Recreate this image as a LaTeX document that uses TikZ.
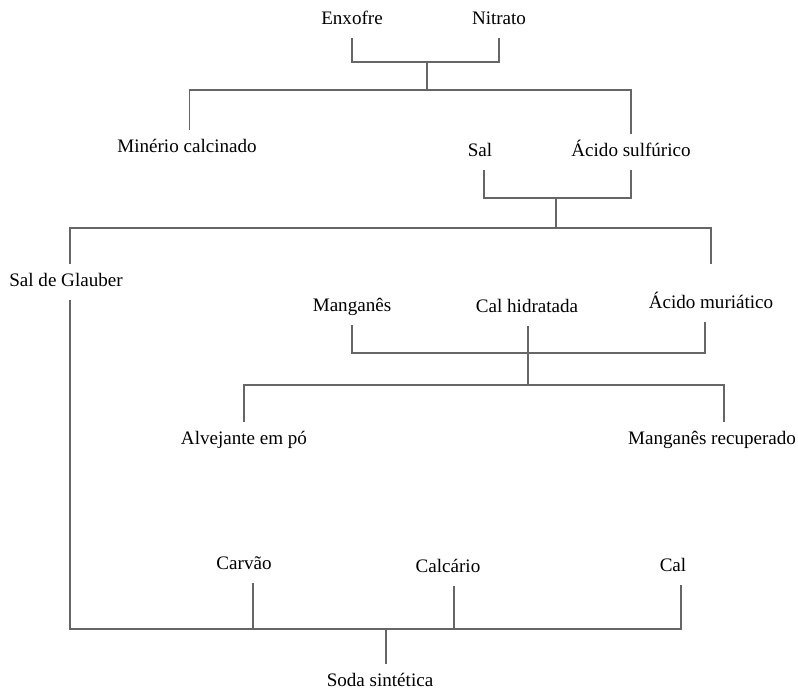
\documentclass[tikz,border=0pt]{standalone}
\usepackage{fontspec}
\setmainfont{LiberationSerif}[Extension=.ttf,UprightFont=*-Regular]
\usetikzlibrary{positioning,calc}
\tikzset{
  item/.style={font=\fontsize{14.3}{16}\selectfont,inner sep=7pt,text height=10pt,text depth=3pt},
  link/.style={draw=black!60,line width=1.1pt}
}

\begin{document}
\begin{tikzpicture}[x=0.75pt,y=-0.75pt]
  \useasboundingbox (0,0) rectangle (798,689);
  % materials
  \node[item] (enx)  at (352,20)  {Enxofre};
  \node[item] (nit)  at (499,20)  {Nitrato};
  \node[item] (min)  at (187,148) {Minério calcinado};
  \node[item] (sal)  at (480,152) {Sal};
  \node[item] (acs)  at (631,152) {Ácido sulfúrico};
  \node[item] (glb)  at (66,282)  {Sal de Glauber};
  \node[item] (mng)  at (352,307) {Manganês};
  \node[item] (calh) at (527,308) {Cal hidratada};
  \node[item] (acm)  at (711,304) {Ácido muriático};
  \node[item] (alv)  at (244,440) {Alvejante em pó};
  \node[item] (mrec) at (712,440) {Manganês recuperado};
  \node[item] (carv) at (244,565) {Carvão};
  \node[item] (calc) at (448,568) {Calcário};
  \node[item] (cal)  at (673,567) {Cal};
  \node[item] (soda) at (380,682) {Soda sintética};
  % junctions
  \coordinate (j1) at (427,62);
  \coordinate (j2) at (427,90);
  \coordinate (j3) at (556,198);
  \coordinate (j4) at (556,228);
  \coordinate (j5) at (528,353);
  \coordinate (j6) at (528,385);
  \coordinate (j7) at (386,629);
  % sulphuric acid
  \draw[link] (enx.south) |- (j1) -| (nit.south);
  \draw[link] (j1) -- (j2);
  \draw[link] ([xshift=2pt]min.north) |- (j2) -| (acs.north);
  % salt cake and muriatic acid
  \draw[link] ([xshift=3pt]sal.south) |- (j3) -| (acs.south);
  \draw[link] (j3) -- (j4);
  \draw[link] ([xshift=3pt]glb.north) |- (j4) -| ([yshift=16pt]acm.north);
  % bleaching powder
  \draw[link] (mng.south) |- (j5) -| ([xshift=-4.5pt]acm.south);
  \draw[link] (j6 |- calh.south) -- (j6);
  \draw[link] (alv.north) |- (j6) -| ([xshift=9pt]mrec.north);
  % soda
  \draw[link] ([xshift=3pt]glb.south) |- (j7) -| ([xshift=6pt]cal.south);
  \draw[link] ([xshift=6.75pt]carv.south) -- ([xshift=6.75pt]carv.south |- j7);
  \draw[link] ([xshift=4.5pt]calc.south) -- ([xshift=4.5pt]calc.south |- j7);
  \draw[link] (j7) -- (j7 |- soda.north);
\end{tikzpicture}
\end{document}
